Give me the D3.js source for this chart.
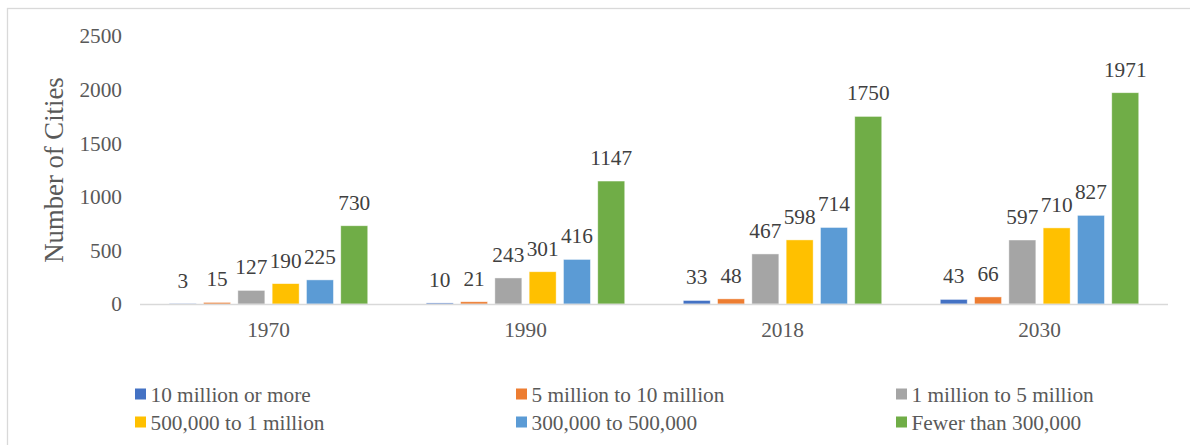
<!DOCTYPE html>
<html>
<head>
<meta charset="utf-8">
<script src="https://cdn.jsdelivr.net/npm/d3@7/dist/d3.min.js"></script>
<style>
  html, body { margin: 0; padding: 0; background: #fff; }
  svg text { font-family: "Liberation Serif", "Times New Roman", serif; }
</style>
</head>
<body>
<svg id="chart" width="1190" height="445"></svg>
<script>
// Number of cities by size class, per year
const years = ["1970", "1990", "2018", "2030"];
const seriesNames = [
  "10 million or more",
  "5 million to 10 million",
  "1 million to 5 million",
  "500,000 to 1 million",
  "300,000 to 500,000",
  "Fewer than 300,000"
];
const tenMillionPlus   = [3, 10, 33, 43];
const fiveToTenMillion = [15, 21, 48, 66];
const oneToFiveMillion = [127, 243, 467, 597];
const halfToOneMillion = [190, 301, 598, 710];
const threeToFiveHundredK = [225, 416, 714, 827];
const underThreeHundredK  = [730, 1147, 1750, 1971];
const yTicks = [0, 500, 1000, 1500, 2000, 2500];

const seriesValues = [tenMillionPlus, fiveToTenMillion, oneToFiveMillion,
                      halfToOneMillion, threeToFiveHundredK, underThreeHundredK];
const colors = ["#4472C4", "#ED7D31", "#A5A5A5", "#FFC000", "#5B9BD5", "#70AD47"];
const FONT = "'Liberation Serif', 'Times New Roman', serif";
const FS = 21.3;

const svg = d3.select("#chart");

// outer frame
svg.append("rect")
  .attr("x", 7.5).attr("y", 8.5)
  .attr("width", 1300).attr("height", 600)
  .attr("fill", "none").attr("stroke", "#d9d9d9").attr("stroke-width", 1.3);

const plot = { left: 140, right: 1168, top: 36, bottom: 304 };

const x0 = d3.scaleBand().domain(years).range([plot.left, plot.right]).padding(0);
const groupWidth = 198.5;
const x1 = d3.scaleBand()
  .domain(d3.range(seriesNames.length))
  .range([(x0.bandwidth() - groupWidth) / 2, (x0.bandwidth() + groupWidth) / 2])
  .paddingInner(0.213).paddingOuter(0);
const y = d3.scaleLinear().domain([0, 2500]).range([plot.bottom, plot.top]);

// y tick labels
const yAxis = d3.axisLeft(y).tickValues(yTicks).tickFormat(d3.format("d"))
  .tickSize(0).tickPadding(0);
const yg = svg.append("g").attr("transform", `translate(122,0)`).call(yAxis)
  .attr("font-family", FONT).attr("font-size", FS);
yg.select(".domain").remove();
yg.selectAll("text").attr("fill", "#595959");

// y title
svg.append("text")
  .attr("transform", `translate(63,${(plot.top + plot.bottom) / 2}) rotate(-90)`)
  .attr("text-anchor", "middle")
  .attr("fill", "#595959")
  .attr("font-family", FONT)
  .attr("font-size", 26.7)
  .text("Number of Cities");

// bars
const groups = svg.append("g").selectAll("g")
  .data(years)
  .join("g")
  .attr("transform", d => `translate(${x0(d)},0)`);

groups.each(function(yr, yi) {
  const g = d3.select(this);
  const vals = seriesValues.map((arr, si) => ({ si, v: arr[yi] }));
  g.selectAll("rect")
    .data(vals)
    .join("rect")
    .attr("x", d => x1(d.si))
    .attr("width", x1.bandwidth())
    .attr("y", d => y(d.v))
    .attr("height", d => y(0) - y(d.v))
    .attr("fill", d => colors[d.si])
    .attr("stroke", "#fff")
    .attr("stroke-opacity", 0.6)
    .attr("stroke-width", 0.75);
  g.selectAll("text.lbl")
    .data(vals)
    .join("text")
    .attr("class", "lbl")
    .attr("x", d => x1(d.si) + x1.bandwidth() / 2)
    .attr("y", d => y(d.v) - 16)
    .attr("text-anchor", "middle")
    .attr("fill", "#404040")
    .attr("font-family", FONT)
    .attr("font-size", FS)
    .text(d => d.v);
});

// category axis
svg.append("line")
  .attr("x1", plot.left).attr("x2", plot.right)
  .attr("y1", plot.bottom + 0.5).attr("y2", plot.bottom + 0.5)
  .attr("stroke", "#d9d9d9").attr("stroke-width", 1.5);

svg.append("g").selectAll("text")
  .data(years)
  .join("text")
  .attr("x", d => x0(d) + x0.bandwidth() / 2)
  .attr("y", 337)
  .attr("text-anchor", "middle")
  .attr("fill", "#595959")
  .attr("font-family", FONT)
  .attr("font-size", FS)
  .text(d => d);

// legend
const legendCols = [135, 516, 896];
const legendRows = [394, 422];
const legend = svg.append("g").selectAll("g")
  .data(seriesNames)
  .join("g")
  .attr("transform", (d, i) => `translate(${legendCols[i % 3]},${legendRows[Math.floor(i / 3)]})`);
legend.append("rect")
  .attr("x", 0).attr("y", -5.5)
  .attr("width", 11).attr("height", 11)
  .attr("fill", (d, i) => colors[i]);
legend.append("text")
  .attr("x", 15.5).attr("y", 7.5)
  .attr("fill", "#595959")
  .attr("font-family", FONT)
  .attr("font-size", FS)
  .text(d => d);
</script>
</body>
</html>
